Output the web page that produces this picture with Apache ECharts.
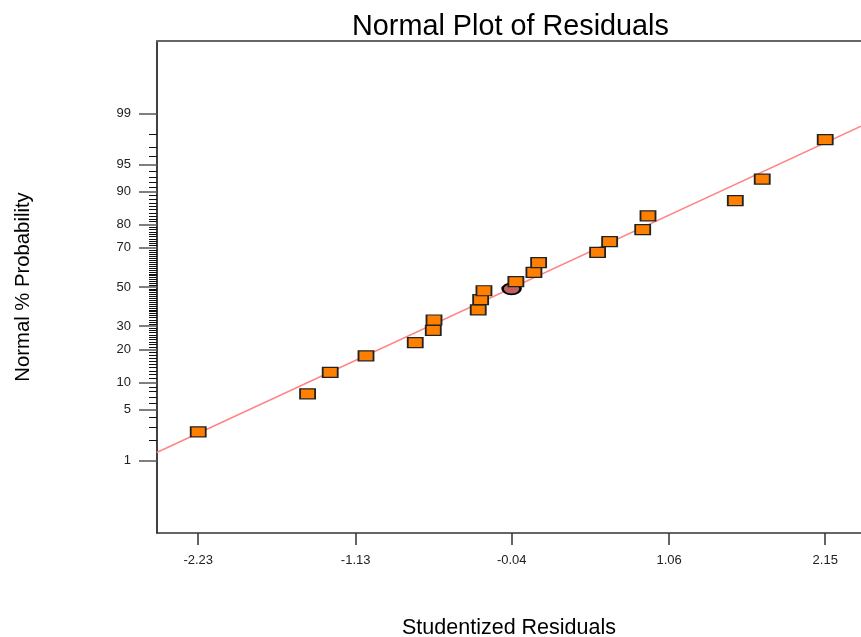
<!DOCTYPE html>
<html>
<head>
<meta charset="utf-8">
<script src="https://cdn.jsdelivr.net/npm/echarts@6/dist/echarts.min.js"></script>
<style>
html,body{margin:0;padding:0;background:#fff;}
#chart{width:861px;height:637px;}
</style>
</head>
<body>
<div id="chart"></div>
<script>
// ---- data ----
var residuals = [-2.23, -1.466, -1.308, -1.058, -0.714, -0.588, -0.583, -0.274, -0.257, -0.234,
                 -0.011, 0.115, 0.148, 0.560, 0.644, 0.875, 0.912, 1.522, 1.710, 2.150];
var probPct = [2.6, 7.6, 12.6, 17.8, 22.8, 28.0, 32.9, 37.9, 43.3, 48.0,
               52.9, 57.8, 62.8, 67.9, 72.9, 77.9, 83.0, 87.7, 92.6, 97.6];
var markedResidual = [-0.041];
var markedPct = [49.0];
var fitLineResidual = [-2.52, 2.40];
var fitLinePct = [1.32, 98.45];
var xTickValues = [-2.23, -1.13, -0.04, 1.06, 2.15];
var yMajorPct = [1, 5, 10, 20, 30, 50, 70, 80, 90, 95, 99];

// inverse normal CDF (probability scale transform)
function probit(p) {
  var a = [-3.969683028665376e+01, 2.209460984245205e+02, -2.759285104469687e+02, 1.383577518672690e+02, -3.066479806614716e+01, 2.506628277459239e+00];
  var b = [-5.447609879822406e+01, 1.615858368580409e+02, -1.556989798598866e+02, 6.680131188771972e+01, -1.328068155288572e+01];
  var c = [-7.784894002430293e-03, -3.223964580411365e-01, -2.400758277161838e+00, -2.549732539343734e+00, 4.374664141464968e+00, 2.938163982698783e+00];
  var d = [7.784695709041462e-03, 3.224671290700398e-01, 2.445134137142996e+00, 3.754408145901500e+00];
  var plow = 0.02425, phigh = 1 - plow, q, r;
  if (p < plow) {
    q = Math.sqrt(-2 * Math.log(p));
    return (((((c[0]*q+c[1])*q+c[2])*q+c[3])*q+c[4])*q+c[5]) / ((((d[0]*q+d[1])*q+d[2])*q+d[3])*q+1);
  }
  if (p <= phigh) {
    q = p - 0.5; r = q*q;
    return (((((a[0]*r+a[1])*r+a[2])*r+a[3])*r+a[4])*r+a[5])*q / (((((b[0]*r+b[1])*r+b[2])*r+b[3])*r+b[4])*r+1);
  }
  q = Math.sqrt(-2 * Math.log(1 - p));
  return -(((((c[0]*q+c[1])*q+c[2])*q+c[3])*q+c[4])*q+c[5]) / ((((d[0]*q+d[1])*q+d[2])*q+d[3])*q+1);
}
function z(pct) { return probit(pct / 100); }

var majorZ = yMajorPct.map(z);
var minorZ = [];
for (var i = 1; i <= 99; i++) {
  if (yMajorPct.indexOf(i) < 0) minorZ.push(z(i));
}

var points = residuals.map(function (r, k) { return [r, z(probPct[k])]; });
var marked = markedResidual.map(function (r, k) { return [r, z(markedPct[k])]; });
var fitLine = fitLineResidual.map(function (r, k) { return [r, z(fitLinePct[k])]; });

var FONT = 'Liberation Sans, Arial, sans-serif';
var chart = echarts.init(document.getElementById('chart'));
chart.setOption({
  animation: false,
  backgroundColor: '#fff',
  title: {
    text: 'Normal Plot of Residuals',
    left: 347, top: 8,
    textStyle: { fontFamily: FONT, fontSize: 28.8, fontWeight: 'normal', color: '#000' }
  },
  grid: { left: 157, right: 0, top: 41, bottom: 104, outerBoundsMode: 'none', containLabel: false },
  xAxis: [{
    type: 'value', min: -2.518, max: 2.40, position: 'bottom',
    name: 'Studentized Residuals', nameLocation: 'middle', nameGap: 84,
    nameTextStyle: { fontFamily: FONT, fontSize: 21.5, color: '#000' },
    axisLine: { show: true, onZero: false, lineStyle: { color: '#333', width: 1.5 } },
    axisTick: { show: true, length: 12, customValues: xTickValues, lineStyle: { color: '#333', width: 1.5 } },
    axisLabel: { customValues: xTickValues, margin: 21, fontFamily: FONT, fontSize: 13, color: '#222',
      formatter: function (v) { return v.toFixed(2); } },
    splitLine: { show: false }
  }, {
    type: 'value', min: -2.518, max: 2.40, position: 'top',
    axisLine: { show: true, onZero: false, lineStyle: { color: '#666', width: 2 } },
    axisTick: { show: false }, axisLabel: { show: false }, splitLine: { show: false }
  }],
  yAxis: [{
    type: 'value', min: -3.30, max: 3.30, position: 'left',
    name: 'Normal % Probability', nameLocation: 'middle', nameGap: 124, nameRotate: 90,
    nameTextStyle: { fontFamily: FONT, fontSize: 20.3, color: '#000' },
    axisLine: { show: true, onZero: false, lineStyle: { color: '#000', width: 1.5 } },
    axisTick: { show: true, length: 18, customValues: majorZ, lineStyle: { color: '#555', width: 1.5 } },
    axisLabel: { customValues: majorZ, margin: 26, fontFamily: FONT, fontSize: 13, color: '#222',
      formatter: function (v) {
        var best = 0;
        for (var k = 1; k < majorZ.length; k++) {
          if (Math.abs(majorZ[k] - v) < Math.abs(majorZ[best] - v)) best = k;
        }
        return String(yMajorPct[best]);
      } },
    splitLine: { show: false }
  }, {
    type: 'value', min: -3.30, max: 3.30, position: 'left',
    axisLine: { show: false, onZero: false },
    axisTick: { show: true, length: 8, customValues: minorZ, lineStyle: { color: '#111', width: 1 } },
    axisLabel: { show: false }, splitLine: { show: false }
  }],
  series: [{
    type: 'line', data: fitLine, xAxisIndex: 0, yAxisIndex: 0,
    symbol: 'none', lineStyle: { color: '#FF8585', width: 1.5 }, z: 1, silent: true
  }, {
    type: 'scatter', data: marked, xAxisIndex: 0, yAxisIndex: 0,
    symbol: 'circle', symbolSize: [18, 11],
    itemStyle: { color: '#C06060', borderColor: '#000', borderWidth: 2, opacity: 1 }, z: 2
  }, {
    type: 'scatter', data: points, xAxisIndex: 0, yAxisIndex: 0,
    symbol: 'rect', symbolSize: [15, 10],
    itemStyle: { color: '#FF8000', borderColor: '#222', borderWidth: 1.5, opacity: 1 }, z: 3
  }]
});
</script>
</body>
</html>
